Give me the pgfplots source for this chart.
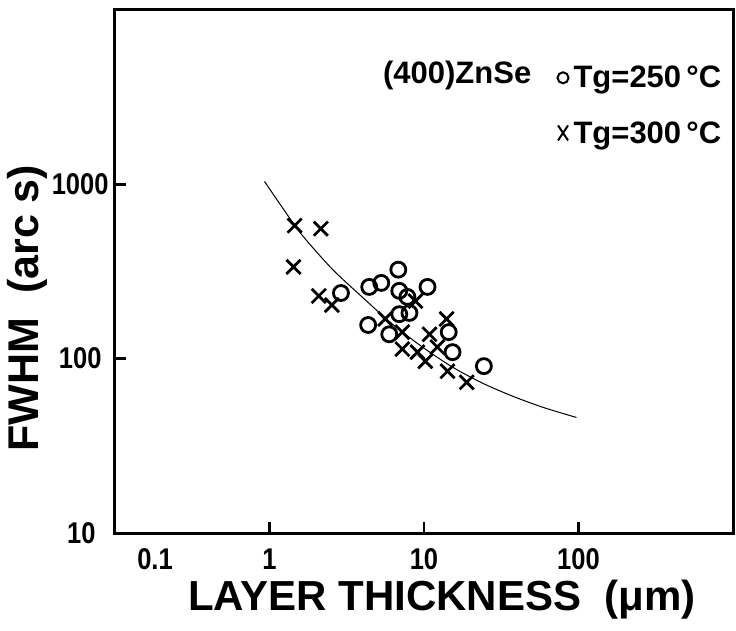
\documentclass[border=0pt]{standalone}
\usepackage{fontspec}
\setmainfont{Liberation Sans}
\newfontfamily\tickfont[FakeStretch=0.85]{Liberation Sans}
\usepackage{pgfplots}
\pgfplotsset{compat=1.18}

% FWHM of the (400) ZnSe rocking curve against layer thickness
\pgfplotstableread{
x      y
2.90   238
4.42   258
5.29   272
6.82   324
6.92   245
7.81   226
10.54  258
6.92   180
8.05   183
4.35   156
5.96   138
14.45  142
15.3   109
24.4   90.6
}\tgA
\pgfplotstableread{
x      y
1.455  580
2.15   557
1.43   336
2.085  229
2.535  203
5.61   169
7.24   142
7.24   113.5
9.07   109
8.81   214
10.86  138
10.2   96.7
12.2   116.5
14.0   169
14.2   84.7
18.9   73.2
}\tgB
\pgfplotstableread{
x      y
0.928  1040
1.197  747
1.616  515
2.535  328
3.975  226
6.234  158
9.78   116.5
15.34  89.3
24.05  72.2
37.7   60.8
59.2   52.5
97.0   46.0
}\fit

\begin{document}
\begin{tikzpicture}
\begin{axis}[
  at={(0pt,0pt)}, anchor=south west,
  scale only axis, width=618pt, height=523pt,
  xmode=log, ymode=log,
  xmin=0.1, xmax=1000, ymin=10, ymax=10000,
  line width=3pt,
  axis line style={line width=3pt, line cap=rect},
  xtick pos=bottom, ytick pos=left,
  tick align=inside, major tick length=11pt,
  major tick style={line width=2.8pt, black},
  minor tick style={draw=none},
  xtick={0.1,1,10,100},
  xticklabels={\hspace*{80pt}0.1,1,10,100},
  ytick={10,100,1000},
  yticklabels={10\hspace*{13pt},100\hspace*{7pt},1000},
  xticklabel style={font=\tickfont\bfseries\fontsize{30}{30}\selectfont,
    inner sep=0pt, anchor=north, yshift=-14pt},
  yticklabel style={font=\tickfont\bfseries\fontsize{30}{30}\selectfont,
    inner sep=0pt, anchor=east, xshift=-5pt},
  xlabel={LAYER THICKNESS\ \ (μm)},
  xlabel style={font=\bfseries\fontsize{42}{42}\selectfont, inner sep=0pt,
    at={(axis description cs:0.529,-0.128)}, anchor=center},
  ylabel={FWHM\ \ (arc\ s)},
  ylabel style={font=\bfseries\fontsize{43}{43}\selectfont, inner sep=0pt,
    at={(axis description cs:-0.141,0.43)}, anchor=center, rotate=0},
  legend style={draw=none, fill=none, inner sep=0pt,
    at={(axis description cs:0.712,0.903)}, anchor=north west,
    font=\bfseries\fontsize{31}{31}\selectfont,
    row sep=24pt,
    nodes={inner sep=4pt}},
  legend cell align=left,
  clip=false,
]
\addplot[only marks, mark=o, mark size=7.5pt, line width=2.8pt,
  legend image code/.code={\draw[line width=2pt] (0pt,0pt) circle (5.5pt);}]
  table[x=x,y=y]{\tgA};
\addlegendentry{Tg=250\,°C}
\addplot[only marks, mark=x, mark size=10pt, line width=2.8pt,
  legend image code/.code={\draw[line width=2pt] (-5pt,-7.5pt) -- (5pt,7.5pt) (-5pt,7.5pt) -- (5pt,-7.5pt);}]
  table[x=x,y=y]{\tgB};
\addlegendentry{Tg=300\,°C}
\addplot[black, line width=1pt, smooth, no marks, forget plot]
  table[x=x,y=y]{\fit};
\node[font=\bfseries\fontsize{31}{31}\selectfont, inner sep=0pt, anchor=east]
  at (axis description cs:0.676,0.874) {(400)ZnSe};
\end{axis}
\pgfresetboundingbox
\path[use as bounding box] (-115pt,-97pt) rectangle (621pt,533pt);
\end{tikzpicture}
\end{document}
